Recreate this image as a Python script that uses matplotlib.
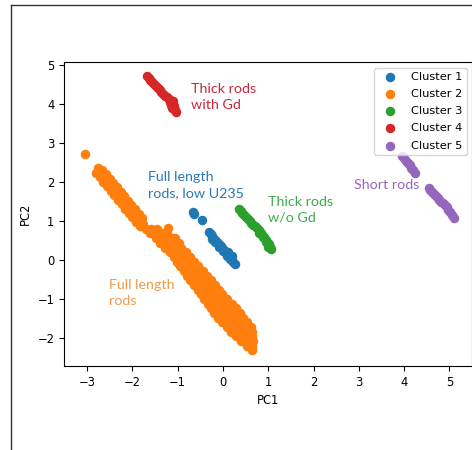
import matplotlib
matplotlib.use("Agg")
import matplotlib.pyplot as plt
from matplotlib.lines import Line2D

plt.rcParams["font.size"] = 8.3

# Cluster point clouds (PC1, PC2)
c1_x = [-0.67, -0.63, -0.47,
        -0.30, -0.27, -0.24, -0.21, -0.17, -0.13, -0.09, -0.05, -0.01, 0.03, 0.07,
        0.11, 0.15, 0.19, 0.23, 0.26,
        -0.25, -0.17, -0.08, 0.00, 0.08, 0.15, 0.20, 0.12]
c1_y = [1.22, 1.19, 1.03,
        0.72, 0.66, 0.61, 0.57, 0.52, 0.47, 0.42, 0.36, 0.31, 0.25, 0.19,
        0.13, 0.07, 0.01, -0.05, -0.11,
        0.55, 0.45, 0.33, 0.22, 0.10, 0.02, 0.10, 0.20]

c2_x = [-3.04,
        # upper narrow arm
        -2.76, -2.72, -2.68, -2.64, -2.60, -2.56, -2.52, -2.48, -2.44, -2.40, -2.36,
        -2.32, -2.28, -2.24, -2.20, -2.16, -2.12, -2.08, -2.04, -2.00, -1.96, -1.92,
        -1.88, -1.84, -1.80, -1.76,
        -2.66, -2.58, -2.50, -2.42, -2.34, -2.26, -2.18, -2.10, -2.02, -1.94, -1.86,
        -1.78,
        -2.80, -2.72, -2.64, -2.56, -2.48, -2.40, -2.32, -2.24, -2.16, -2.08, -2.00,
        -1.92, -1.84,
        # main body
        -1.70, -1.58, -1.46, -1.21, -1.34,
        -1.60, -1.48, -1.36, -1.24,
        -1.48, -1.36, -1.24, -1.12, -1.06,
        -1.40, -1.28, -1.16, -1.04, -0.98,
        -1.28, -1.16, -1.04, -0.92,
        -1.18, -1.06, -0.94, -0.82,
        -1.09, -0.97, -0.85, -0.73,
        -1.01, -0.89, -0.77, -0.65, -0.63,
        -0.94, -0.82, -0.70, -0.58, -0.54,
        -0.86, -0.74, -0.62, -0.50, -0.45,
        -0.79, -0.67, -0.55, -0.43, -0.36,
        -0.72, -0.60, -0.48, -0.36, -0.27,
        -0.64, -0.52, -0.40, -0.28, -0.18,
        -0.56, -0.44, -0.32, -0.20, -0.09,
        -0.49, -0.37, -0.25, -0.13, -0.01,
        -0.42, -0.30, -0.18, -0.06, 0.06, 0.10,
        -0.34, -0.22, -0.10, 0.02, 0.14, 0.20,
        -0.27, -0.15, -0.03, 0.09, 0.21, 0.29,
        -0.20, -0.08, 0.04, 0.16, 0.28, 0.37,
        -0.12, 0.00, 0.12, 0.24, 0.36, 0.44,
        -0.02, 0.10, 0.22, 0.34, 0.46, 0.52,
        0.08, 0.20, 0.32, 0.44, 0.56, 0.62,
        0.18, 0.30, 0.42, 0.54, 0.64,
        0.28, 0.40, 0.52, 0.64,
        0.39, 0.51, 0.63, 0.66,
        0.53, 0.65,
        0.64]
c2_y = [2.72,
        2.35, 2.29, 2.24, 2.18, 2.12, 2.07, 2.01, 1.95, 1.89, 1.84, 1.78,
        1.72, 1.67, 1.61, 1.55, 1.50, 1.44, 1.38, 1.32, 1.27, 1.21, 1.15,
        1.10, 1.04, 0.98, 0.92,
        2.32, 2.21, 2.09, 1.98, 1.87, 1.75, 1.64, 1.52, 1.41, 1.30, 1.18,
        1.07,
        2.24, 2.12, 2.01, 1.89, 1.78, 1.67, 1.55, 1.44, 1.32, 1.21, 1.10,
        0.98, 0.86,
        0.80, 0.80, 0.80, 0.82, 0.70,
        0.68, 0.68, 0.68, 0.68,
        0.56, 0.56, 0.56, 0.56, 0.56,
        0.44, 0.44, 0.44, 0.44, 0.44,
        0.32, 0.32, 0.32, 0.32,
        0.20, 0.20, 0.20, 0.20,
        0.08, 0.08, 0.08, 0.08,
        -0.04, -0.04, -0.04, -0.04, -0.04,
        -0.16, -0.16, -0.16, -0.16, -0.16,
        -0.28, -0.28, -0.28, -0.28, -0.28,
        -0.40, -0.40, -0.40, -0.40, -0.40,
        -0.52, -0.52, -0.52, -0.52, -0.52,
        -0.64, -0.64, -0.64, -0.64, -0.64,
        -0.76, -0.76, -0.76, -0.76, -0.76,
        -0.88, -0.88, -0.88, -0.88, -0.88,
        -1.00, -1.00, -1.00, -1.00, -1.00, -1.00,
        -1.12, -1.12, -1.12, -1.12, -1.12, -1.12,
        -1.24, -1.24, -1.24, -1.24, -1.24, -1.24,
        -1.36, -1.36, -1.36, -1.36, -1.36, -1.36,
        -1.48, -1.48, -1.48, -1.48, -1.48, -1.48,
        -1.60, -1.60, -1.60, -1.60, -1.60, -1.60,
        -1.72, -1.72, -1.72, -1.72, -1.72, -1.72,
        -1.84, -1.84, -1.84, -1.84, -1.84,
        -1.96, -1.96, -1.96, -1.96,
        -2.08, -2.08, -2.08, -2.08,
        -2.20, -2.20,
        -2.32]

c3_x = [0.35, 0.39, 0.43, 0.47, 0.51, 0.55, 0.59, 0.63, 0.67, 0.71, 0.75, 0.79,
        0.83, 0.87, 0.91, 0.95, 0.98, 1.01, 1.04, 1.07,
        0.80, 0.88, 0.95, 1.00]
c3_y = [1.31, 1.26, 1.21, 1.16, 1.11, 1.06, 1.01, 0.96, 0.91, 0.86, 0.81, 0.76,
        0.70, 0.64, 0.58, 0.52, 0.46, 0.40, 0.34, 0.27,
        0.70, 0.58, 0.45, 0.33]

c4_x = [-1.68, -1.64, -1.60, -1.56, -1.52, -1.48, -1.44, -1.40, -1.36, -1.32,
        -1.28, -1.24, -1.20, -1.16, -1.13, -1.11, -1.09, -1.07, -1.05, -1.04,
        -1.14, -1.12, -1.18, -1.10]
c4_y = [4.72, 4.67, 4.62, 4.57, 4.52, 4.47, 4.42, 4.37, 4.32, 4.27,
        4.22, 4.18, 4.14, 4.10, 4.05, 4.00, 3.95, 3.90, 3.85, 3.80,
        3.98, 3.90, 4.05, 4.08]

c5_x = [3.96, 4.00, 4.04, 4.08, 4.12, 4.16, 4.20, 4.25,
        4.54, 4.58, 4.62, 4.66, 4.70, 4.74, 4.78, 4.82, 4.86, 4.90, 4.94, 4.98,
        5.02, 5.06, 5.11]
c5_y = [2.67, 2.61, 2.55, 2.49, 2.43, 2.37, 2.30, 2.22,
        1.85, 1.80, 1.75, 1.70, 1.65, 1.60, 1.55, 1.50, 1.45, 1.40, 1.35, 1.29,
        1.22, 1.15, 1.07]

labels = ["Cluster 1", "Cluster 2", "Cluster 3", "Cluster 4", "Cluster 5"]
colors = ["#1f77b4", "#ff7f0e", "#2ca02c", "#d62728", "#9467bd"]
xticks = [-3, -2, -1, 0, 1, 2, 3, 4, 5]

notes = [
    (-0.70, 4.54, "Thick rods\nwith Gd", "#c8283a"),
    (-1.645, 2.29, "Full length\nrods, low U235", "#2a78b8"),
    (1.00, 1.65, "Thick rods\nw/o Gd", "#3aad4a"),
    (2.89, 2.07, "Short rods", "#9467bd"),
    (-2.51, -0.49, "Full length\nrods", "#f29a4a"),
]

fig = plt.figure(figsize=(4.72, 4.5), dpi=100)
ax = fig.add_axes([0.1356, 0.1867, 0.8654, 0.6755])

series = [(c1_x, c1_y), (c2_x, c2_y), (c3_x, c3_y), (c4_x, c4_y), (c5_x, c5_y)]
for (xs, ys), lab, col in zip(series, labels, colors):
    ax.scatter(xs, ys, s=34, color=col, label=lab)

for x, y, txt, col in notes:
    ax.text(x, y, txt, color=col, fontsize=10.3, family="Lato",
            ha="left", va="top", linespacing=1.4)

ax.set_xlim(-3.51, 5.51)
ax.set_ylim(-2.72, 5.08)
ax.set_xticks(xticks)
ax.set_xlabel("PC1")
ax.set_ylabel("PC2")
ax.legend(loc="upper right", fontsize=8.2, labelspacing=0.62)

# screenshot frame lines
fig.add_artist(Line2D([0.0227, 1.0], [0.988, 0.988], color="#333333", lw=1.0))
fig.add_artist(Line2D([0.0227, 0.0227], [0.0, 0.988], color="#333333", lw=1.0))

fig.savefig("out.png", dpi=100)
